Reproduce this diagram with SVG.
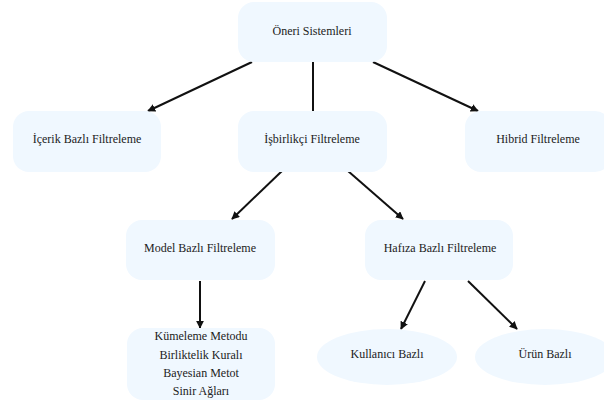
<svg xmlns="http://www.w3.org/2000/svg" width="604" height="403" viewBox="0 0 604 403">
  <style>
    .box { fill: #F0F8FF; }
    .lbl { font-family: "Liberation Serif", "Times New Roman", serif; font-size: 12px; fill: #222; text-anchor: middle; }
    .edge { stroke: #111; stroke-width: 2; fill: none; }
  </style>
  <defs>
    <marker id="arrow" viewBox="0 0 10 10" refX="9" refY="5" markerWidth="4" markerHeight="4" orient="auto" markerUnits="strokeWidth">
      <path d="M0,0 L10,5 L0,10 z" fill="#111"/>
    </marker>
  </defs>
  <rect width="604" height="403" fill="#FFFFFF"/>

  <g id="connectors">
    <line class="edge" x1="252" y1="62" x2="148" y2="111" marker-end="url(#arrow)"/>
    <line class="edge" x1="313" y1="62" x2="313" y2="111"/>
    <line class="edge" x1="373" y1="62" x2="478" y2="111" marker-end="url(#arrow)"/>
    <line class="edge" x1="282" y1="171" x2="232" y2="219" marker-end="url(#arrow)"/>
    <line class="edge" x1="348" y1="171" x2="403" y2="219" marker-end="url(#arrow)"/>
    <line class="edge" x1="200" y1="281" x2="200" y2="328" marker-end="url(#arrow)"/>
    <line class="edge" x1="425" y1="281" x2="401" y2="329" marker-end="url(#arrow)"/>
    <line class="edge" x1="468" y1="281" x2="517" y2="329" marker-end="url(#arrow)"/>
  </g>

  <g id="oneri-sistemleri">
    <rect class="box" x="238" y="2" width="149" height="60" rx="16"/>
    <text class="lbl" x="312" y="35">Öneri Sistemleri</text>
  </g>

  <g id="icerik-bazli">
    <rect class="box" x="13" y="111" width="148" height="61" rx="16"/>
    <text class="lbl" x="87" y="143">İçerik Bazlı Filtreleme</text>
  </g>

  <g id="isbirlikci">
    <rect class="box" x="238" y="111" width="149" height="61" rx="16"/>
    <text class="lbl" x="312" y="143">İşbirlikçi Filtreleme</text>
  </g>

  <g id="hibrid">
    <rect class="box" x="465" y="111" width="146" height="61" rx="16"/>
    <text class="lbl" x="538" y="143">Hibrid Filtreleme</text>
  </g>

  <g id="model-bazli">
    <rect class="box" x="126" y="220" width="149" height="60" rx="16"/>
    <text class="lbl" x="200" y="252">Model Bazlı Filtreleme</text>
  </g>

  <g id="hafiza-bazli">
    <rect class="box" x="365" y="220" width="148" height="60" rx="16"/>
    <text class="lbl" x="440" y="252">Hafıza Bazlı Filtreleme</text>
  </g>

  <g id="model-yontemleri">
    <rect class="box" x="127" y="328" width="148" height="72" rx="16"/>
    <text class="lbl" x="201" y="340">Kümeleme Metodu</text>
    <text class="lbl" x="201" y="359">Birliktelik Kuralı</text>
    <text class="lbl" x="201" y="377">Bayesian Metot</text>
    <text class="lbl" x="201" y="395">Sinir Ağları</text>
  </g>

  <g id="kullanici-bazli">
    <ellipse class="box" cx="387" cy="357" rx="70" ry="28"/>
    <text class="lbl" x="387" y="358">Kullanıcı Bazlı</text>
  </g>

  <g id="urun-bazli">
    <ellipse class="box" cx="545" cy="357" rx="70" ry="28"/>
    <text class="lbl" x="545" y="358">Ürün Bazlı</text>
  </g>
</svg>
